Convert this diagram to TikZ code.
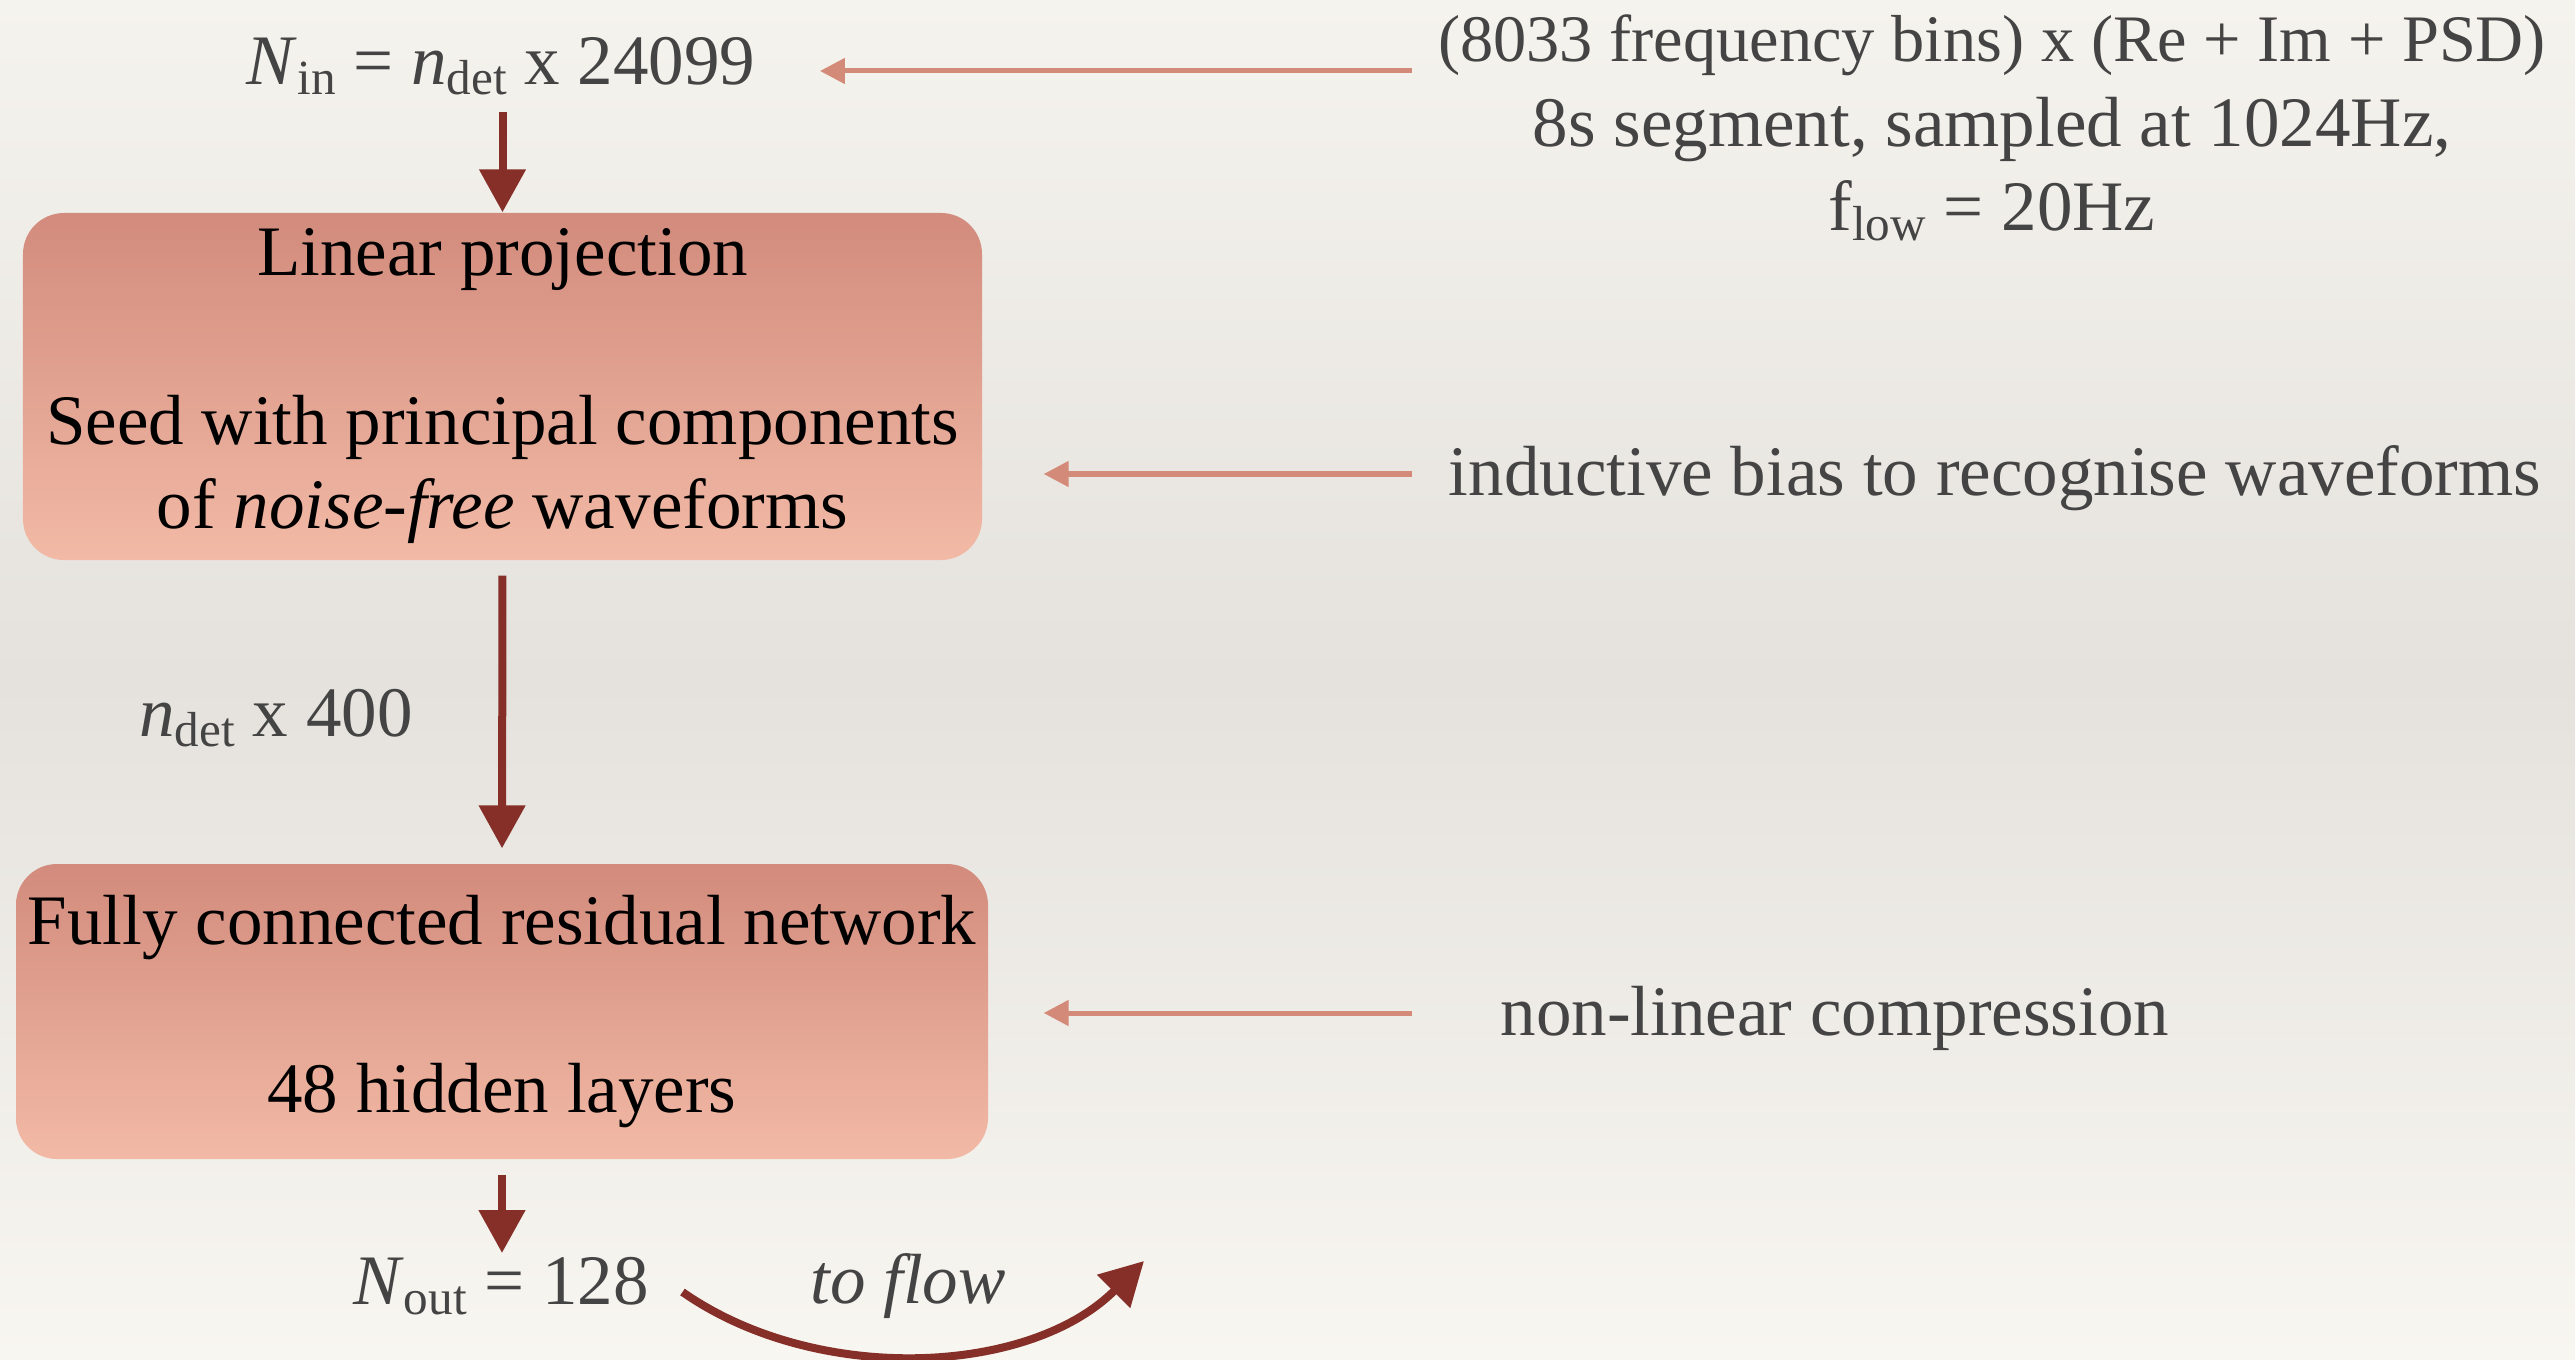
\documentclass[tikz,border=0pt]{standalone}
\usepackage{fontspec}
\setmainfont{Liberation Serif}
\usetikzlibrary{arrows.meta}
\definecolor{bgtop}{RGB}{245,243,237}
\definecolor{bgmid}{RGB}{229,226,221}
\definecolor{bgbot}{RGB}{248,246,240}
\definecolor{boxtop}{RGB}{210,139,124}
\definecolor{boxbot}{RGB}{242,186,166}
\definecolor{darkred}{RGB}{134,46,40}
\definecolor{salmon}{RGB}{212,138,120}
\definecolor{labelgray}{RGB}{68,68,68}
\newcommand{\lowsub}[1]{\raisebox{-0.3ex}{\fontsize{14}{14}\selectfont #1}}
\tikzset{
  bigfont/.style={font=\fontsize{20.2}{24}\selectfont},
  stagebox/.style={bigfont, rounded corners=0.41cm, top color=boxtop, bottom color=boxbot,
     draw=none, align=center, text=black, inner sep=0pt},
  note/.style={bigfont, align=center, text=labelgray, inner sep=0pt},
  flowarrow/.style={draw=darkred, line width=0.08cm, -{Triangle[length=0.43cm,width=0.45cm]}},
  sidearrow/.style={draw=salmon, line width=0.05cm, -{Triangle[length=0.25cm,width=0.25cm]}},
}
\begin{document}
\begin{tikzpicture}
\useasboundingbox (0,0) rectangle (25.75,-13.6);
\shade[top color=bgtop, bottom color=bgbot, middle color=bgmid] (0,0) rectangle (25.75,-13.6);

% main column
\node[note] (nin) at (5.01,-0.66) {\textit{N}\lowsub{in} = \textit{n}\lowsub{det} x 24099};
\node[stagebox, minimum width=9.59cm, minimum height=3.47cm] (box1) at (5.025,-3.865)
  {Linear projection\\[24pt] Seed with principal components\\ of \textit{noise-free} waveforms};
\node[note] (ndet) at (2.76,-7.18) {\textit{n}\lowsub{det} x 400};
\node[stagebox, minimum width=9.72cm, minimum height=2.95cm] (box2) at (5.02,-10.115)
  {Fully connected residual network\\[24pt] 48 hidden layers};
\node[note] (nout) at (5.01,-12.86) {\textit{N}\lowsub{out} = 128};
\node[note, font=\fontsize{20.2}{24}\selectfont\itshape] (toflow) at (9.08,-12.86) {to flow};
\coordinate (flowend) at (11.44,-12.61);

% side notes
\node[note] (input) at (19.92,-1.28)
  {{\fontsize{18.9}{24}\selectfont (8033 frequency bins) x (Re + Im + PSD)}\\ 8s segment, sampled at 1024Hz,\\ f\lowsub{low} = 20Hz};
\node[note] (bias) at (19.95,-4.78) {inductive bias to recognise waveforms};
\node[note] (comp) at (18.35,-10.18) {non-linear compression};
\coordinate (s1) at (14.12,-0.71);
\coordinate (s2) at (14.12,-4.74);
\coordinate (s3) at (14.12,-10.13);

% main flow arrows
\draw[flowarrow] ([yshift=-0.46cm]nin.center -| box1.north) -- (box1.north);
\draw[flowarrow, shorten <=0.15cm, shorten >=0.15cm] (box1.south) -- (box2.north);
\draw[flowarrow, shorten <=0.15cm] (box2.south) -- ([yshift=0.33cm]nout.center -| box2.south);
\draw[flowarrow] ([xshift=0.33cm,yshift=-0.06cm]nout.east) to[out=-35,in=-135,looseness=0.9] (flowend);

% side arrows
\draw[sidearrow] (s1) -- ([xshift=0.64cm]nin.east |- s1);
\draw[sidearrow] (s2) -- ([xshift=0.61cm]box1.east |- s2);
\draw[sidearrow] (s3) -- ([xshift=0.55cm]box2.east |- s3);
\end{tikzpicture}
\end{document}
